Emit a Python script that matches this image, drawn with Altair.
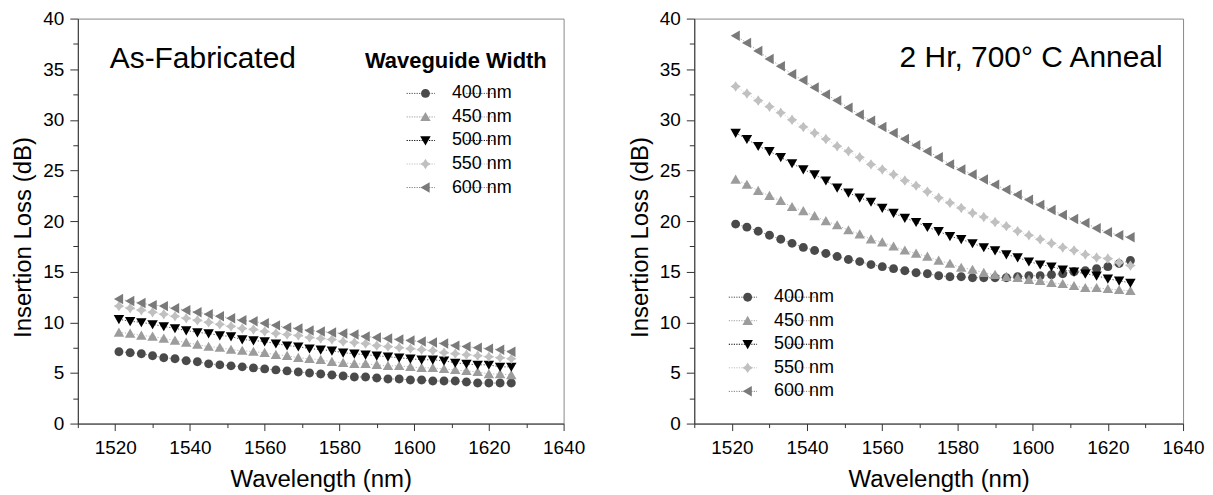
import altair as alt
import pandas as pd

FONT = "Liberation Sans"

wavelengths = [1521, 1524, 1527, 1530, 1533, 1536, 1539, 1542, 1545, 1548,
               1551, 1554, 1557, 1560, 1563, 1566, 1569, 1572, 1575, 1578,
               1581, 1584, 1587, 1590, 1593, 1596, 1599, 1602, 1605, 1608,
               1611, 1614, 1617, 1620, 1623, 1626]
widths = ["400 nm", "450 nm", "500 nm", "550 nm", "600 nm"]

# As-fabricated panel
asfab_400 = [7.1, 7.0, 6.9, 6.7, 6.5, 6.4, 6.2, 6.1, 5.9, 5.8,
             5.7, 5.6, 5.5, 5.4, 5.3, 5.2, 5.1, 5.0, 4.9, 4.8,
             4.7, 4.6, 4.6, 4.5, 4.4, 4.4, 4.3, 4.3, 4.2, 4.2,
             4.2, 4.1, 4.0, 4.0, 4.0, 4.0]
asfab_450 = [9.0, 8.9, 8.7, 8.6, 8.4, 8.2, 8.0, 7.8, 7.6, 7.5,
             7.3, 7.2, 7.1, 7.0, 6.8, 6.7, 6.5, 6.4, 6.3, 6.1,
             6.0, 5.9, 5.9, 5.8, 5.7, 5.7, 5.6, 5.5, 5.5, 5.4,
             5.3, 5.2, 5.1, 4.9, 4.9, 4.8]
asfab_500 = [10.3, 10.1, 10.0, 9.8, 9.6, 9.4, 9.2, 9.0, 8.9, 8.7,
             8.6, 8.3, 8.2, 8.1, 7.9, 7.7, 7.6, 7.4, 7.3, 7.2,
             7.0, 6.9, 6.8, 6.7, 6.6, 6.5, 6.4, 6.3, 6.3, 6.2,
             6.0, 5.9, 5.8, 5.8, 5.6, 5.6]
asfab_550 = [11.6, 11.4, 11.2, 11.0, 10.8, 10.6, 10.4, 10.2, 10.0, 9.8,
             9.6, 9.4, 9.3, 9.1, 8.9, 8.8, 8.7, 8.5, 8.4, 8.3,
             8.1, 8.0, 7.9, 7.7, 7.6, 7.5, 7.4, 7.3, 7.2, 7.0,
             6.9, 6.8, 6.7, 6.6, 6.5, 6.4]
asfab_600 = [12.3, 12.1, 11.9, 11.7, 11.6, 11.4, 11.2, 11.0, 10.8, 10.6,
             10.4, 10.2, 10.1, 9.9, 9.7, 9.5, 9.4, 9.2, 9.1, 9.0,
             8.9, 8.8, 8.6, 8.5, 8.4, 8.3, 8.2, 8.1, 8.0, 7.9,
             7.7, 7.6, 7.5, 7.4, 7.3, 7.1]

# 2 Hr, 700 C anneal panel
anneal_400 = [19.7, 19.4, 19.0, 18.6, 18.2, 17.8, 17.4, 17.1, 16.8, 16.5,
              16.2, 16.0, 15.7, 15.5, 15.3, 15.1, 14.9, 14.8, 14.6, 14.5,
              14.5, 14.4, 14.4, 14.4, 14.4, 14.5, 14.6, 14.6, 14.7, 14.8,
              15.0, 15.1, 15.3, 15.5, 15.8, 16.1]
anneal_450 = [24.1, 23.6, 23.0, 22.5, 22.0, 21.4, 21.0, 20.5, 20.0, 19.6,
              19.1, 18.7, 18.2, 17.9, 17.5, 17.1, 16.8, 16.5, 16.1, 15.8,
              15.4, 15.2, 14.9, 14.7, 14.5, 14.4, 14.2, 14.1, 13.9, 13.8,
              13.6, 13.4, 13.4, 13.3, 13.2, 13.1]
anneal_500 = [28.7, 28.1, 27.4, 26.9, 26.3, 25.7, 25.1, 24.6, 24.0, 23.3,
              22.8, 22.3, 21.9, 21.3, 20.8, 20.3, 19.9, 19.4, 19.0, 18.5,
              18.2, 17.8, 17.4, 17.1, 16.7, 16.4, 16.0, 15.7, 15.5, 15.2,
              15.0, 14.8, 14.6, 14.3, 14.1, 13.9]
anneal_550 = [33.3, 32.6, 31.9, 31.3, 30.7, 30.0, 29.3, 28.7, 28.1, 27.4,
              26.9, 26.3, 25.6, 25.1, 24.6, 24.0, 23.5, 22.9, 22.3, 21.8,
              21.3, 20.8, 20.4, 19.9, 19.5, 19.0, 18.6, 18.2, 17.8, 17.4,
              17.1, 16.7, 16.4, 16.3, 15.9, 15.6]
anneal_600 = [38.3, 37.6, 36.8, 36.0, 35.3, 34.5, 33.9, 33.2, 32.5, 31.9,
              31.2, 30.5, 29.9, 29.3, 28.7, 28.1, 27.5, 26.9, 26.3, 25.6,
              25.1, 24.6, 24.1, 23.6, 23.1, 22.6, 22.1, 21.6, 21.1, 20.6,
              20.2, 19.8, 19.3, 18.9, 18.6, 18.4]

x_ticks = [1510, 1520, 1530, 1540, 1550, 1560, 1570, 1580, 1590, 1600,
           1610, 1620, 1630, 1640]
y_ticks = [0, 2.5, 5, 7.5, 10, 12.5, 15, 17.5, 20, 22.5, 25, 27.5, 30,
           32.5, 35, 37.5, 40]

colors = ["#4a4a4a", "#9c9c9c", "#000000", "#c0c0c0", "#7a7a7a"]

# marker shapes (unit square -1..1, size 110 -> 1 unit = 5.24 px)
MSIZE = 110
marker_paths = [
    "M-0.85,0A0.85,0.85 0 1,1 0.85,0A0.85,0.85 0 1,1 -0.85,0Z",
    "M0,-0.95L1,0.8L-1,0.8Z",
    "M0,0.95L1,-0.8L-1,-0.8Z",
    "M0,-1L0.4,-0.4L1,0L0.4,0.4L0,1L-0.4,0.4L-1,0L-0.4,-0.4Z",
    "M-0.95,0L0.8,-1L0.8,1Z",
]
# dotted legend line (the line-legend symbol is drawn smaller and left of
# the marker symbol, so the path is shifted to straddle the marker)
legend_line_path = "M-3.6,0L1.8,0M7.8,0L13.2,0"


def panel_df(series):
    rows = []
    for w, vals in zip(widths, series):
        for wl, v in zip(wavelengths, vals):
            rows.append({"wl": wl, "loss": v, "width": w, "wline": w})
    return pd.DataFrame(rows)


def make_panel(df, w, h, lx, ly, texts):
    xaxis = alt.Axis(
        title="Wavelength (nm)", values=x_ticks, format="d",
        labelExpr="datum.value % 20 === 0 ? datum.label : ''",
        tickSize={"condition": {"test": "datum.value % 20 === 0", "value": 7}, "value": 4},
        labelFlush=False, labelOverlap=False, grid=False,
        titleFontSize=24, titlePadding=10, labelFontSize=19, labelPadding=8,
    )
    yaxis = alt.Axis(
        title="Insertion Loss (dB)", values=y_ticks,
        labelExpr="datum.value % 5 === 0 ? datum.label : ''",
        tickSize={"condition": {"test": "datum.value % 5 === 0", "value": 8}, "value": 5},
        labelFlush=False, labelOverlap=False, grid=False,
        titleFontSize=24, titlePadding=7, labelFontSize=19, labelPadding=6,
        titleY=219,
    )
    xs = alt.X("wl:Q", scale=alt.Scale(domain=[1510, 1640], nice=False, zero=False), axis=xaxis)
    ys = alt.Y("loss:Q", scale=alt.Scale(domain=[0, 40], nice=False), axis=yaxis)
    common = dict(title=None, orient="none", legendX=lx, legendY=ly,
                  symbolSize=MSIZE, labelFont=FONT, labelFontSize=18,
                  labelOffset=17.5, rowPadding=5.6, padding=0)
    leg_pts = alt.Legend(symbolStrokeWidth=0, symbolOpacity=1, labelColor="black", **common)
    leg_line = alt.Legend(symbolType=legend_line_path, symbolStrokeWidth=1,
                          symbolDash=[1.2, 1.3], symbolOpacity=1,
                          symbolFillColor="transparent", labelOpacity=0,
                          labelColor="black", **common)
    layers = []
    # faint dotted connecting line per series (constant colour, no scale)
    for wname, col in zip(widths, colors):
        layers.append(
            alt.Chart(df).transform_filter(alt.datum.width == wname)
            .mark_line(strokeWidth=0.7, strokeDash=[1.2, 1.8], color=col)
            .encode(x=xs, y=ys)
        )
    # zero-size point layer that only provides the dotted-line legend symbols
    layers.append(
        alt.Chart(df).mark_point(size=0).encode(
            x=xs, y=ys,
            stroke=alt.Stroke("wline:N", scale=alt.Scale(range=colors), legend=leg_line),
        )
    )
    layers.append(
        alt.Chart(df).mark_point(filled=True, opacity=1, size=MSIZE, strokeWidth=0).encode(
            x=xs, y=ys,
            color=alt.Color("width:N", scale=alt.Scale(domain=widths, range=colors), legend=leg_pts),
            shape=alt.Shape("width:N", scale=alt.Scale(domain=widths, range=marker_paths), legend=leg_pts),
        )
    )
    for (txt, tx, ty, size, weight, align) in texts:
        layers.append(
            alt.Chart(pd.DataFrame({"t": [txt]})).mark_text(
                font=FONT, fontSize=size, fontWeight=weight, align=align,
                baseline="alphabetic", color="black",
            ).encode(text="t:N", x=alt.value(tx), y=alt.value(ty))
        )
    return alt.layer(*layers).properties(width=w, height=h)


left = make_panel(
    panel_df([asfab_400, asfab_450, asfab_500, asfab_550, asfab_600]),
    487, 406, 339.5, 66,
    [("As-Fabricated", 32, 50, 30, "normal", "left"),
     ("Waveguide Width", 379, 50, 22, "bold", "center")],
)
right = make_panel(
    panel_df([anneal_400, anneal_450, anneal_500, anneal_550, anneal_600]),
    490, 406, 44.5, 270.3,
    [("2 Hr, 700\u00b0 C Anneal", 469.5, 49, 30, "normal", "right")],
)

chart = (
    alt.hconcat(left, right, spacing=42)
    .resolve_scale(color="independent", shape="independent", stroke="independent")
    .resolve_legend(color="independent", shape="independent", stroke="independent")
    .properties(padding={"left": 3, "top": 0, "right": 0, "bottom": 0})
    .configure_view(stroke="#8a8a8a", strokeWidth=1)
    .configure_axis(
        labelFont=FONT, titleFont=FONT, labelColor="black", titleColor="black",
        titleFontWeight="normal", domainColor="#333333", tickColor="#333333",
        domainWidth=1, tickWidth=1,
    )
    .configure_text(font=FONT)
)

chart.save("out.html", embed_options={"renderer": "svg", "actions": False})
